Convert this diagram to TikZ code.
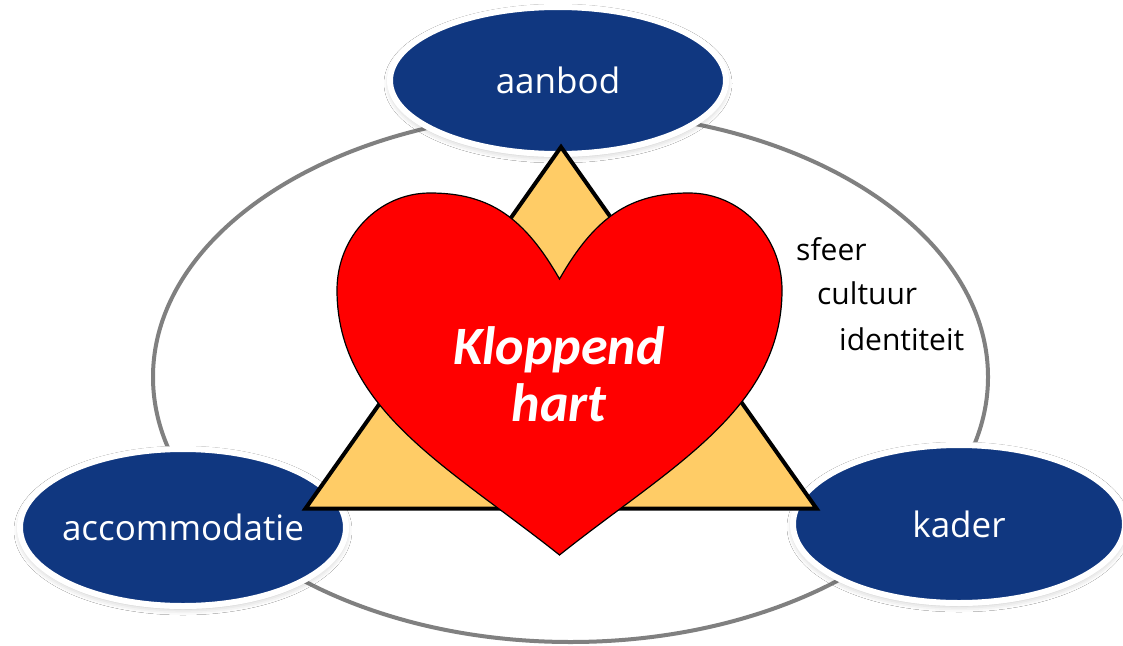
\documentclass[tikz,border=0pt]{standalone}
\usepackage{fontspec}
\setmainfont{Open Sans}
\newfontfamily\heartfont{Carlito}
\usetikzlibrary{shapes.geometric,shadows.blur}
\definecolor{navy}{RGB}{16,55,128}
\definecolor{tri}{RGB}{255,204,102}
\definecolor{ring}{RGB}{128,128,128}
\definecolor{heartred}{RGB}{255,0,0}
\tikzset{
  blueell/.style={ellipse, fill=navy, draw=white, line width=6pt, text=white,
    inner sep=0pt, font=\fontsize{35}{42}\selectfont,
    blur shadow={shadow xshift=0pt, shadow yshift=-3pt, shadow blur radius=6pt, shadow opacity=25}},
  sidetext/.style={anchor=base west, inner sep=0pt, text=black, font=\fontsize{30}{36}\selectfont},
  hearttext/.style={align=center, text=white, inner sep=0pt,
    font=\heartfont\bfseries\itshape\fontsize{54}{57}\selectfont}
}
\begin{document}
\begin{tikzpicture}[x=1pt,y=-1pt]
\useasboundingbox[fill=white] (0,0) rectangle (1123,645);
% outer ring
\draw[ring, line width=4pt] (570.5,377) ellipse [x radius=417.5, y radius=265];
% blue ellipses
\node[blueell, minimum width=336pt, minimum height=147pt] (aanbod) at (558,80.5) {\makebox[0pt]{aanbod}};
\node[blueell, minimum width=326pt, minimum height=157pt] (accom) at (183,527.5) {\makebox[0pt]{accommodatie}};
\node[blueell, minimum width=332pt, minimum height=158pt] (kader) at (959,524) {\makebox[0pt]{kader}};
% triangle
\draw[fill=tri, draw=black, line width=4pt, line join=miter] (561,147) -- (305.5,508.5) -- (816.5,508.5) -- cycle;
% heart
\draw[fill=heartred, draw=black, line width=1.2pt]
  (559.5,555) .. controls (450.8,468.2) and (337,410) .. (337,290)
  .. controls (337,236) and (379,193) .. (430,193)
  .. controls (490,193) and (524.7,218.1) .. (559.5,279)
  .. controls (594.3,218.1) and (629,193) .. (689,193)
  .. controls (740,193) and (782,236) .. (782,290)
  .. controls (782,410) and (668.2,468.2) .. (559.5,555) -- cycle;
\node[hearttext] (hart) at (559,374) {Kloppend\\hart};
% side texts
\node[sidetext] (sfeer) at (796,260) {sfeer};
\node[sidetext] (cultuur) at (817,304) {cultuur};
\node[sidetext] (identiteit) at (839,350) {identiteit};
\end{tikzpicture}
\end{document}
